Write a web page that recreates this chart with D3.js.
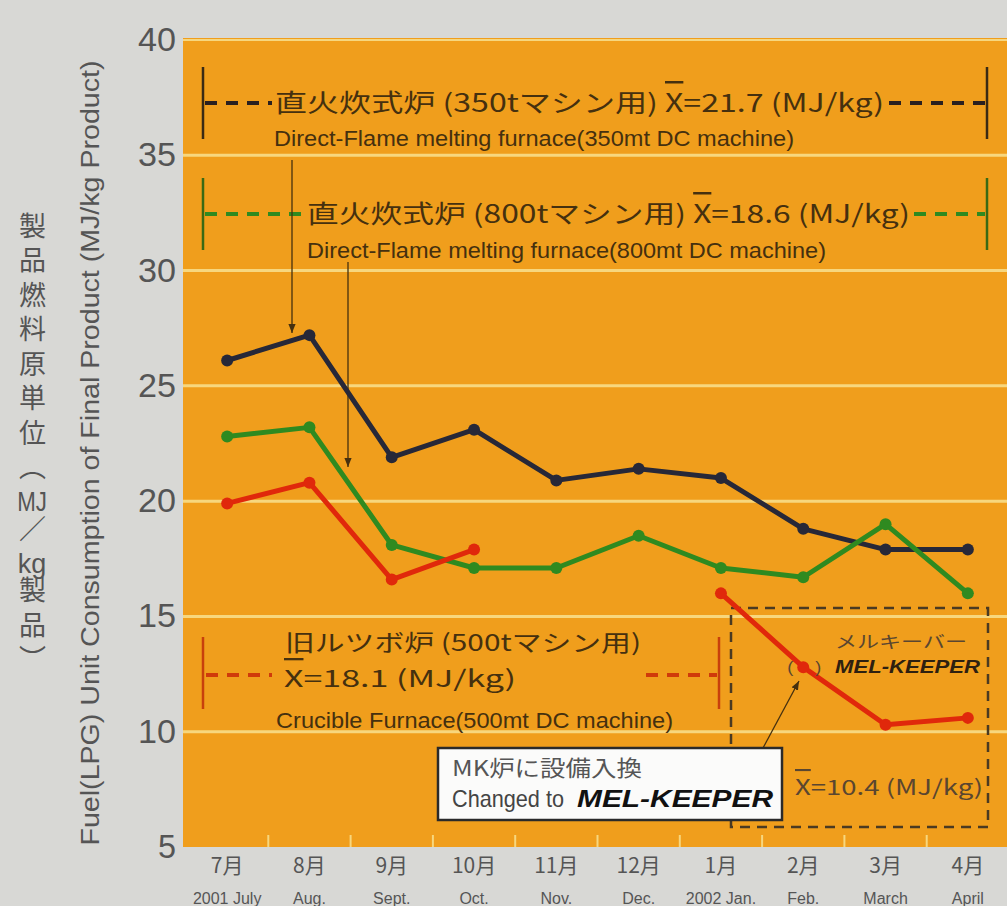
<!DOCTYPE html>
<html>
<head>
<meta charset="utf-8">
<script src="https://cdn.jsdelivr.net/npm/d3@7"></script>
<style>
  body { margin: 0; background: #d8d8d5; }
  svg { display: block; }
  .vt { writing-mode: vertical-rl; font-family: 'Noto Sans CJK JP', sans-serif;
        font-size: 27px; letter-spacing: 7.5px; line-height: 36px; color: #555; }
  .vt .tcy { text-combine-upright: all; font-family: 'Liberation Sans', sans-serif; }
</style>
</head>
<body>
<svg id="chart" width="1007" height="906"></svg>
<script>
// data
const monthsJa = ["7月", "8月", "9月", "10月", "11月", "12月", "1月", "2月", "3月", "4月"];
const monthsEn = ["2001 July", "Aug.", "Sept.", "Oct.", "Nov.", "Dec.", "2002 Jan.", "Feb.", "March", "April"];
const yTicks = [5, 10, 15, 20, 25, 30, 35, 40];
const gridTicks = [10, 15, 20, 25, 30, 35, 40];

const furnace350 = [26.1, 27.2, 21.9, 23.1, 20.9, 21.4, 21.0, 18.8, 17.9, 17.9];
const furnace800 = [22.8, 23.2, 18.1, 17.1, 17.1, 18.5, 17.1, 16.7, 19.0, 16.0];
const crucible500 = [19.9, 20.8, 16.6, 17.9, null, null, null, null, null, null];
const melKeeper = [null, null, null, null, null, null, 16.0, 12.8, 10.3, 10.6];

const yTitleJa = ["製品燃料原単位（", "MJ", "／", "kg", "製品）"];
const yTitleEn = "Fuel(LPG) Unit Consumption of Final Product (MJ/kg Product)";

const svg = d3.select("#chart");
const orange = "#f09e1c",
    grid = "#f7d77e",
    brown = "#45300f",
    colBlack = "#272838",
    colGreen = "#2f8a20",
    colRed = "#e0280b";
const narrow = "'Liberation Sans Narrow', 'Arial Narrow', 'Liberation Sans', sans-serif";
const jpFont = "'Noto Sans CJK JP', sans-serif";

const x = d3.scaleBand().domain(monthsJa).range([186, 1009]);
const y = d3.scaleLinear().domain([5, 40]).range([847, 40]);
const cx = m => x(m) + x.bandwidth() / 2;

// background
svg.append("rect").attr("width", 1007).attr("height", 906).attr("fill", "#d8d8d5");
svg.append("rect")
    .attr("x", 183).attr("y", y(40) - 2)
    .attr("width", 1007 - 183).attr("height", y(5) - y(40) + 2)
    .attr("fill", orange);

// grid lines
svg.append("g").selectAll("line")
    .data(gridTicks)
    .enter()
    .append("line")
    .attr("x1", 183).attr("x2", 1007)
    .attr("y1", d => y(d)).attr("y2", d => y(d))
    .attr("stroke", grid)
    .attr("stroke-width", d => d == 40 ? 2 : 3);

// small ticks at bottom between months
svg.append("g").selectAll("line")
    .data(monthsJa.slice(1))
    .enter()
    .append("line")
    .attr("x1", d => x(d)).attr("x2", d => x(d))
    .attr("y1", y(5) - 12).attr("y2", y(5))
    .attr("stroke", grid)
    .attr("stroke-width", 2);

// y axis
const yAxis = svg.append("g")
    .attr("transform", "translate(176,0)")
    .call(d3.axisLeft(y).tickValues(yTicks).tickSize(0).tickPadding(0));
yAxis.select(".domain").remove();
yAxis.selectAll("text")
    .attr("fill", "#555")
    .style("font-family", "Liberation Sans")
    .style("font-size", "33px")
    .attr("textLength", d => d < 10 ? 18 : 38)
    .attr("lengthAdjust", "spacingAndGlyphs");

// x axis (two rows)
const xAxis = svg.append("g")
    .attr("transform", "translate(0," + y(5) + ")")
    .call(d3.axisBottom(x).tickSize(0).tickPadding(0));
xAxis.select(".domain").remove();
xAxis.selectAll("text")
    .attr("y", 26)
    .attr("dy", 0)
    .attr("fill", "#555")
    .style("font-family", jpFont)
    .style("font-size", "21px");
xAxis.selectAll(".tick")
    .append("text")
    .attr("y", 57)
    .attr("text-anchor", "middle")
    .attr("fill", "#555")
    .style("font-family", narrow)
    .style("font-size", "16px")
    .text((d, i) => monthsEn[i]);

// y titles
svg.append("text")
    .attr("transform", "translate(99,453) rotate(-90)")
    .attr("text-anchor", "middle")
    .attr("textLength", 785)
    .attr("lengthAdjust", "spacingAndGlyphs")
    .attr("fill", "#555")
    .style("font-family", narrow)
    .style("font-size", "26px")
    .text(yTitleEn);

// japanese title, written vertically (tategaki)
const vt = svg.append("foreignObject")
    .attr("x", 14).attr("y", 212)
    .attr("width", 44).attr("height", 480)
    .append("xhtml:div")
    .attr("class", "vt");
vt.selectAll("span")
    .data(yTitleJa)
    .enter()
    .append("xhtml:span")
    .attr("class", d => /[a-zA-Z]/.test(d) ? "tcy" : null)
    .text(d => d);

// arrow marker
svg.append("defs").append("marker")
    .attr("id", "arr")
    .attr("viewBox", "0 0 10 10")
    .attr("refX", 10).attr("refY", 5)
    .attr("markerWidth", 9).attr("markerHeight", 9)
    .attr("markerUnits", "userSpaceOnUse")
    .attr("orient", "auto")
    .append("path")
    .attr("d", "M0,1 L10,5 L0,9 z")
    .attr("fill", brown);

// range annotations
function rangeBar(x0, x1, yy, color, h) {
    [x0, x1].forEach(function (xx) {
        svg.append("line")
            .attr("x1", xx).attr("x2", xx)
            .attr("y1", yy - h).attr("y2", yy + h)
            .attr("stroke", color).attr("stroke-width", 2.5);
    });
}
function dashes(x0, x1, yy, color) {
    svg.append("line")
        .attr("x1", x0).attr("x2", x1)
        .attr("y1", yy).attr("y2", yy)
        .attr("stroke", color)
        .attr("stroke-width", 4)
        .attr("stroke-dasharray", "12,9");
}
function label(txt, xx, yy, len, size, fam, color) {
    return svg.append("text")
        .attr("x", xx).attr("y", yy)
        .attr("textLength", len)
        .attr("lengthAdjust", "spacingAndGlyphs")
        .attr("fill", color || brown)
        .style("font-family", fam)
        .style("font-size", size + "px")
        .text(txt);
}
function labelXbar(pre, post, xx, yy, len, size, color) {
    const t = svg.append("text")
        .attr("x", xx).attr("y", yy)
        .attr("textLength", len)
        .attr("lengthAdjust", "spacingAndGlyphs")
        .attr("fill", color || brown)
        .style("font-family", jpFont)
        .style("font-size", size + "px");
    t.append("tspan").text(pre);
    t.append("tspan").style("text-decoration", "overline").text("X");
    t.append("tspan").text(post);
}

// 350t
rangeBar(203, 987, 103, "#3a2a14", 36);
dashes(205, 272, 103, "#2a2020");
dashes(889, 985, 103, "#2a2020");
labelXbar("直火炊式炉 (350tマシン用) ", "=21.7 (MJ/kg)", 275, 112, 609, 25);
label("Direct-Flame melting furnace(350mt DC machine)", 274, 146, 520, 22, narrow);

// 800t
rangeBar(203, 987, 214, "#3a6a14", 36);
dashes(205, 302, 214, colGreen);
dashes(914, 985, 214, colGreen);
labelXbar("直火炊式炉 (800tマシン用) ", "=18.6 (MJ/kg)", 307, 223, 603, 25);
label("Direct-Flame melting furnace(800mt DC machine)", 307, 258, 519, 22, narrow);

// 500t crucible
rangeBar(203, 719, 673, "#c8400c", 36);
dashes(206, 272, 675, "#d03a0a");
dashes(646, 717, 675, "#d03a0a");
label("旧ルツボ炉 (500tマシン用)", 285, 651, 356, 23, jpFont);
labelXbar("", "=18.1 (MJ/kg)", 284, 687, 232, 23);
label("Crucible Furnace(500mt DC machine)", 276, 728, 397, 22, narrow);

// MEL-KEEPER dashed box
svg.append("rect")
    .attr("x", 731).attr("y", 608)
    .attr("width", 257).attr("height", 219)
    .attr("fill", "none")
    .attr("stroke", "#4a3a22")
    .attr("stroke-width", 2.5)
    .attr("stroke-dasharray", "10,7");
label("メルキーバー", 835, 648, 132, 17, jpFont, "#5a4630");
svg.append("text")
    .attr("x", 835).attr("y", 673)
    .attr("textLength", 145)
    .attr("lengthAdjust", "spacingAndGlyphs")
    .attr("fill", "#2e2010")
    .style("font-family", "Liberation Sans")
    .style("font-weight", "bold")
    .style("font-style", "italic")
    .style("font-size", "18px")
    .text("MEL-KEEPER");
labelXbar("", "=10.4 (MJ/kg)", 795, 795, 188, 21, "#5a4630");

// arrows
[[292, 160, 292, 333], [348, 262, 348, 467], [763, 748, 799, 681]].forEach(function (a) {
    svg.append("line")
        .attr("x1", a[0]).attr("y1", a[1])
        .attr("x2", a[2]).attr("y2", a[3])
        .attr("stroke", brown)
        .attr("stroke-width", 1.3)
        .attr("marker-end", "url(#arr)");
});

// series lines
const series = [
    {values: furnace350, color: colBlack},
    {values: furnace800, color: colGreen},
    {values: crucible500, color: colRed},
    {values: melKeeper, color: colRed}
];
const line = d3.line()
    .defined(d => d != null)
    .x((d, i) => cx(monthsJa[i]))
    .y(d => y(d));

series.forEach(function (s) {
    svg.append("path")
        .datum(s.values)
        .attr("d", line)
        .attr("fill", "none")
        .attr("stroke", s.color)
        .attr("stroke-width", 5)
        .attr("stroke-linejoin", "round");
    svg.append("g").selectAll("circle")
        .data(s.values.map((v, i) => ({v: v, m: monthsJa[i]})).filter(d => d.v != null))
        .enter()
        .append("circle")
        .attr("cx", d => cx(d.m))
        .attr("cy", d => y(d.v))
        .attr("r", 6)
        .attr("fill", s.color);
});

// parens around Feb MEL-KEEPER point
label("(", cx("2月") - 16, y(12.8) + 6, 6, 17, "Liberation Sans", "#5a4630");
label(")", cx("2月") + 12, y(12.8) + 6, 6, 17, "Liberation Sans", "#5a4630");

// white note box
svg.append("rect")
    .attr("x", 438).attr("y", 748)
    .attr("width", 344).attr("height", 72)
    .attr("fill", "#fbfbfa")
    .attr("stroke", "#2a2a2a")
    .attr("stroke-width", 2.5);
label("MK炉に設備入換", 452, 776, 190, 22, jpFont, "#555");
label("Changed to", 452, 807, 112, 24, narrow, "#444");
svg.append("text")
    .attr("x", 577).attr("y", 807)
    .attr("textLength", 196)
    .attr("lengthAdjust", "spacingAndGlyphs")
    .attr("fill", "#111")
    .style("font-family", "Liberation Sans")
    .style("font-weight", "bold")
    .style("font-style", "italic")
    .style("font-size", "24px")
    .text("MEL-KEEPER");
</script>
</body>
</html>
